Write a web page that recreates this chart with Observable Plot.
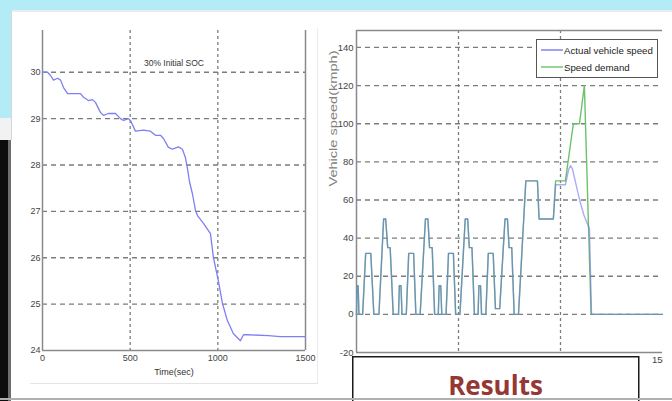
<!DOCTYPE html>
<html><head><meta charset="utf-8">
<script src="https://cdn.jsdelivr.net/npm/d3@7"></script>
<script src="https://cdn.jsdelivr.net/npm/@observablehq/plot@0.6"></script>
<style>
html,body{margin:0;padding:0;width:672px;height:401px;overflow:hidden;background:#fff;font-family:"Liberation Sans",Arial,sans-serif;}
.abs{position:absolute;}
#chartL{position:absolute;left:0;top:0;}
#chartR{position:absolute;left:318px;top:0;}
</style></head><body>
<div class="abs" style="left:0;top:0;width:672px;height:10px;background:#b3ebf7"></div>
<div class="abs" style="left:0;top:10px;width:672px;height:2px;background:#e4eef0"></div>
<div class="abs" style="left:0;top:0;width:11px;height:118px;background:#b3ebf7"></div>
<div class="abs" style="left:11px;top:10px;width:1px;height:130px;background:#d0d8da"></div>
<div class="abs" style="left:0;top:118px;width:11px;height:22px;background:#f2f2f2"></div>
<div class="abs" style="left:0;top:140px;width:8px;height:261px;background:#0d0d0d"></div>
<div class="abs" style="left:8px;top:140px;width:3px;height:261px;background:#6e6e6e"></div>
<div class="abs" style="left:30px;top:383px;width:288px;height:1px;background:#e4e4e4"></div>
<div class="abs" style="left:317px;top:28px;width:1px;height:355px;background:#ececec"></div>
<div id="chartL"></div>
<div id="chartR"></div>
<div class="abs" style="left:536px;top:39px;width:120px;height:37px;border:1px solid #555;background:#fff;">
  <svg width="120" height="37" style="position:absolute;left:0;top:0">
    <line x1="4" x2="26" y1="10" y2="10" stroke="#7b7bf2" stroke-width="1.4"/>
    <line x1="4" x2="26" y1="27" y2="27" stroke="#6cc26c" stroke-width="1.4"/>
    <text x="27" y="13.5" font-size="9.7" fill="#222" font-family="Liberation Sans, Arial">Actual vehicle speed</text>
    <text x="27" y="30.5" font-size="9.7" fill="#222" font-family="Liberation Sans, Arial">Speed demand</text>
  </svg>
</div>
<svg class="abs" style="left:352px;top:356px" width="290" height="45">
  <rect x="0.75" y="0.75" width="286" height="60" fill="#fff" stroke="#1a1a1a" stroke-width="1.5"/>
  <text x="143.5" y="39" text-anchor="middle" font-family="Open Sans, Lato, sans-serif" font-weight="bold" font-size="26" fill="#953734">Results</text>
</svg>
<div class="abs" style="left:0;top:398px;width:672px;height:2px;background:#b0b0b0"></div>
<script>
// ---- Left chart: SOC vs time ----
const socTime = [0,29,46,63,86,103,120,143,177,217,234,262,285,302,331,348,376,416,445,462,490,502,530,576,616,644,673,690,718,741,775,798,815,827,838,855,872,884,918,958,975,1003,1026,1055,1089,1129,1146,1169,1288,1357,1500];
const socValue = [30.00,30.00,29.93,29.83,29.87,29.83,29.67,29.54,29.54,29.54,29.46,29.39,29.41,29.35,29.13,29.07,29.11,29.11,29.00,28.96,29.00,28.96,28.73,28.75,28.73,28.64,28.64,28.57,28.38,28.34,28.39,28.34,28.16,27.92,27.65,27.38,27.03,26.91,26.74,26.52,26.00,25.50,25.02,24.64,24.36,24.21,24.34,24.34,24.32,24.30,24.30];
const socYTicks = [24,25,26,27,28,29,30];
const socXTicks = [0,500,1000,1500];
const socTitle = "30% Initial SOC";
const socXLabel = "Time(sec)";

// ---- Right chart: vehicle speed ----
const demandTime = [0,3,8,12,30,45,70,85,110,133,143,153,165,180,
 206,210,218,223,244,256,280,291,312,338,350,358,371,383,
 401,405,413,418,439,451,475,486,507,533,545,553,566,578,
 596,600,608,613,634,646,670,681,702,728,740,748,761,773,
 794,830,887,895,965,976,1024,1063,1093,1117,1150,1500];
const demandSpeed = [0,15,15,0,0,32,32,0,0,50,50,35,35,0,
 0,15,15,0,0,32,32,0,0,50,50,35,35,0,
 0,15,15,0,0,32,32,0,0,50,50,35,35,0,
 0,15,15,0,0,32,32,3,3,50,50,35,35,0,
 0,70,70,50,50,70,70,100,100,120,0,0];
const actualTime = [0,3,8,12,30,45,70,85,110,133,143,153,165,180,
 206,210,218,223,244,256,280,291,312,338,350,358,371,383,
 401,405,413,418,439,451,475,486,507,533,545,553,566,578,
 596,600,608,613,634,646,670,681,702,728,740,748,761,773,
 794,830,887,895,965,976,1024,1032,1040,1049,1058,1070,1085,1100,1115,1130,1142,1147,1152,1500];
const actualSpeed = [0,15,15,0,0,32,32,0,0,50,50,35,35,0,
 0,15,15,0,0,32,32,0,0,50,50,35,35,0,
 0,15,15,0,0,32,32,0,0,50,50,35,35,0,
 0,15,15,0,0,32,32,3,3,50,50,35,35,0,
 0,70,70,50,50,68,68,72,76,78,76.5,71,64,57.5,52,48,45,22,0,0];
const speedYTicks = [-20,0,20,40,60,80,100,120,140];
const speedXTicks = [0,500,1000,1500];
const speedYLabel = "Vehicle speed(kmph)";

const soc = socTime.map((t,i)=>({t, v: socValue[i]}));
const demand = demandTime.map((t,i)=>({t, v: demandSpeed[i]}));
const actual = actualTime.map((t,i)=>({t, v: actualSpeed[i]}));

const gridCol = "#7c7c7c", axisCol = "#8a8a8a", txtCol = "#444";
const fmt = d => String(d);

const left = Plot.plot({
  width: 318, height: 395,
  marginLeft: 42, marginRight: 13, marginTop: 30, marginBottom: 45,
  style: {background: "transparent", overflow: "hidden", fontFamily: "Liberation Sans, Arial, sans-serif"},
  x: {domain: [0,1500]},
  y: {domain: [24,30.9]},
  marks: [
    Plot.gridY([25,26,27,28,29,30], {stroke: gridCol, strokeOpacity: 1, strokeWidth: 1.3, strokeDasharray: "5,4"}),
    Plot.gridX([500,1000], {stroke: gridCol, strokeOpacity: 1, strokeWidth: 1.3, strokeDasharray: "3,3"}),
    Plot.ruleX([0,1500], {stroke: axisCol, strokeWidth: 1.5}),
    Plot.ruleY([24], {stroke: axisCol, strokeWidth: 1.5}),
    Plot.line(soc, {x: "t", y: "v", stroke: "#7f7ff4", strokeWidth: 1.3}),
    Plot.axisY(socYTicks, {tickSize: 0, tickPadding: 2, fontSize: 9, color: txtCol, label: null, tickFormat: fmt}),
    Plot.axisX(socXTicks, {tickSize: 0, tickPadding: 4, fontSize: 9, color: txtCol, label: null, tickFormat: fmt}),
    Plot.text([socTitle], {frameAnchor: "top", dy: 33, lineAnchor: "middle", fontSize: 8.5, fill: "#333"}),
    Plot.text([socXLabel], {frameAnchor: "bottom", dy: 24, fontSize: 9, fill: "#333"})
  ]
});
document.getElementById("chartL").append(left);

const right = Plot.plot({
  width: 345, height: 395,
  marginLeft: 38, marginRight: 1, marginTop: 30, marginBottom: 43,
  style: {background: "transparent", overflow: "hidden", fontFamily: "Liberation Sans, Arial, sans-serif"},
  x: {domain: [0,1500]},
  y: {domain: [-20,148.9]},
  marks: [
    Plot.gridY([0,20,40,60,80,100,120,140], {stroke: gridCol, strokeOpacity: 1, strokeWidth: 1.3, strokeDasharray: "5,4"}),
    Plot.gridX([500,1000], {stroke: gridCol, strokeOpacity: 1, strokeWidth: 1.3, strokeDasharray: "3,3"}),
    Plot.ruleX([0], {stroke: axisCol, strokeWidth: 1.5}),
    Plot.ruleY([-20,148.9], {stroke: axisCol, strokeWidth: 1.5}),
    Plot.line(demand, {x: "t", y: "v", stroke: "#6cc26c", strokeWidth: 1.4}),
    Plot.line(actual, {x: "t", y: "v", stroke: "#7070ee", strokeWidth: 1.4, strokeOpacity: 0.58}),
    Plot.axisY(speedYTicks, {tickSize: 0, tickPadding: 3, fontSize: 9.5, color: txtCol, label: null, tickFormat: fmt}),
    Plot.axisX(speedXTicks, {tickSize: 0, tickPadding: 4, fontSize: 9.5, color: txtCol, label: null, tickFormat: fmt}),
    Plot.text([speedYLabel], {frameAnchor: "left", dx: -23, dy: -5, rotate: -90, fontSize: 10, fill: "#808080"})
  ]
});
document.getElementById("chartR").append(right);
// stretch rotated y label to match the reference's elongated lettering
d3.select(right).selectAll("text").filter(function(){ return this.textContent === speedYLabel; })
  .attr("textLength", 136).attr("lengthAdjust", "spacingAndGlyphs");
</script>
</body></html>
